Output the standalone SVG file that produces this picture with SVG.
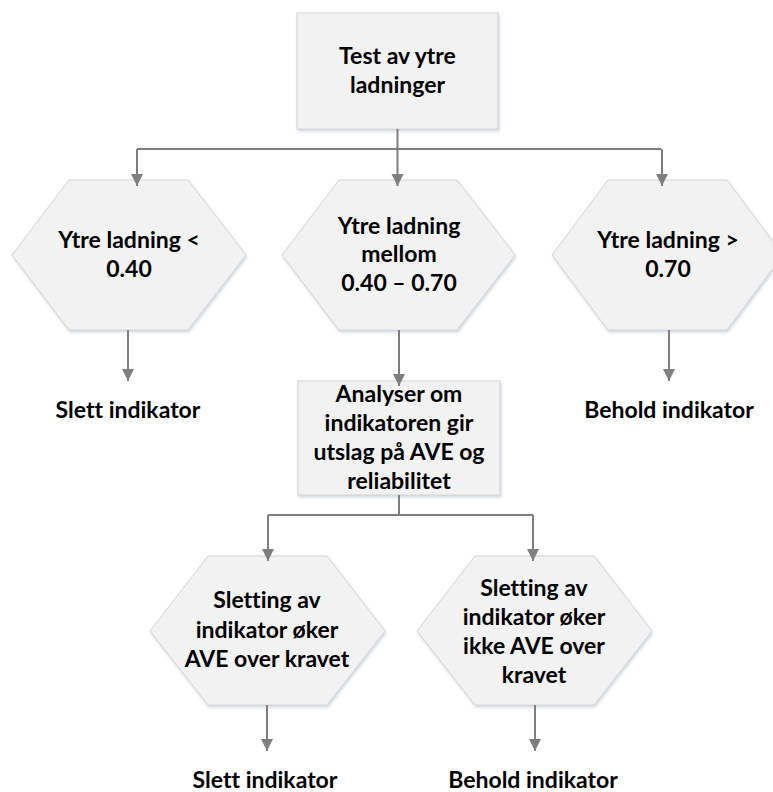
<svg xmlns="http://www.w3.org/2000/svg" width="773" height="792" viewBox="0 0 773 792">
<style>
.shape{fill:#f2f2f2;stroke:#d4d4d4;stroke-width:1;filter:url(#sh)}
.t{font-family:Lato,"Carlito","Liberation Sans",sans-serif;font-weight:bold;font-size:23px;fill:#000;text-anchor:middle;font-variant-ligatures:none}
.c{fill:none;stroke:#7f7f7f;stroke-width:2}
.a{marker-end:url(#arr)}
</style>
<defs>
<filter id="sh" x="-10%" y="-10%" width="120%" height="130%">
<feDropShadow dx="1" dy="2" stdDeviation="1.5" flood-color="#9aa8b8" flood-opacity="0.45"/>
</filter>
<marker id="arr" markerUnits="userSpaceOnUse" markerWidth="14" markerHeight="14" refX="12" refY="6" orient="auto">
<path d="M0,0 L12,6 L0,12 Z" fill="#7f7f7f"/>
</marker>
</defs>
<rect width="773" height="792" fill="#fff"/>
<g id="n-top">
<rect class="shape" x="297" y="13" width="201" height="116"/>
<text class="t" x="397.5" y="64">Test av ytre</text>
<text class="t" x="397.5" y="93">ladninger</text>
</g>
<g id="n-low">
<polygon class="shape" points="12,255 69,180 188,180 246,255 188,330 69,330"/>
<text class="t" x="129" y="248">Ytre ladning &lt;</text>
<text class="t" x="129" y="277">0.40</text>
</g>
<g id="n-mid">
<polygon class="shape" points="282,255 339,180 457,180 515,255 457,330 339,330"/>
<text class="t" x="399" y="234">Ytre ladning</text>
<text class="t" x="399" y="262">mellom</text>
<text class="t" x="399" y="291">0.40 – 0.70</text>
</g>
<g id="n-high">
<polygon class="shape" points="552,255 608,180 727,180 783,255 727,330 608,330"/>
<text class="t" x="668" y="248">Ytre ladning &gt;</text>
<text class="t" x="668" y="277">0.70</text>
</g>
<g id="n-slett1">
<text class="t" x="128" y="418">Slett indikator</text>
</g>
<g id="n-behold1">
<text class="t" x="669" y="418">Behold indikator</text>
</g>
<g id="n-analyse">
<rect class="shape" x="298" y="381" width="202" height="114"/>
<text class="t" x="399" y="402">Analyser om</text>
<text class="t" x="399" y="431">indikatoren gir</text>
<text class="t" x="399" y="460">utslag på AVE og</text>
<text class="t" x="399" y="489">reliabilitet</text>
</g>
<g id="n-oker">
<polygon class="shape" points="150,631 208,556 327,556 385,631 327,705 208,705"/>
<text class="t" x="267" y="608">Sletting av</text>
<text class="t" x="267" y="638">indikator øker</text>
<text class="t" x="267" y="667">AVE over kravet</text>
</g>
<g id="n-ikke">
<polygon class="shape" points="417,631 475,556 594,556 652,631 594,705 475,705"/>
<text class="t" x="534" y="596">Sletting av</text>
<text class="t" x="534" y="625">indikator øker</text>
<text class="t" x="534" y="654">ikke AVE over</text>
<text class="t" x="534" y="683">kravet</text>
</g>
<g id="n-slett2">
<text class="t" x="265" y="788">Slett indikator</text>
</g>
<g id="n-behold2">
<text class="t" x="533" y="788">Behold indikator</text>
</g>
<g id="connectors">
<path class="c" d="M137,149 H661"/>
<path class="c a" d="M397.5,129 V186"/>
<path class="c a" d="M137,149 V186"/>
<path class="c a" d="M662,149 V186"/>
<path class="c a" d="M128,330 V381"/>
<path class="c a" d="M399,330 V386"/>
<path class="c a" d="M669,330 V381"/>
<path class="c" d="M399,495 V515 M268,515 H533"/>
<path class="c a" d="M268,515 V561"/>
<path class="c a" d="M533,515 V561"/>
<path class="c a" d="M267,705 V751"/>
<path class="c a" d="M535,705 V751"/>
</g>
</svg>
